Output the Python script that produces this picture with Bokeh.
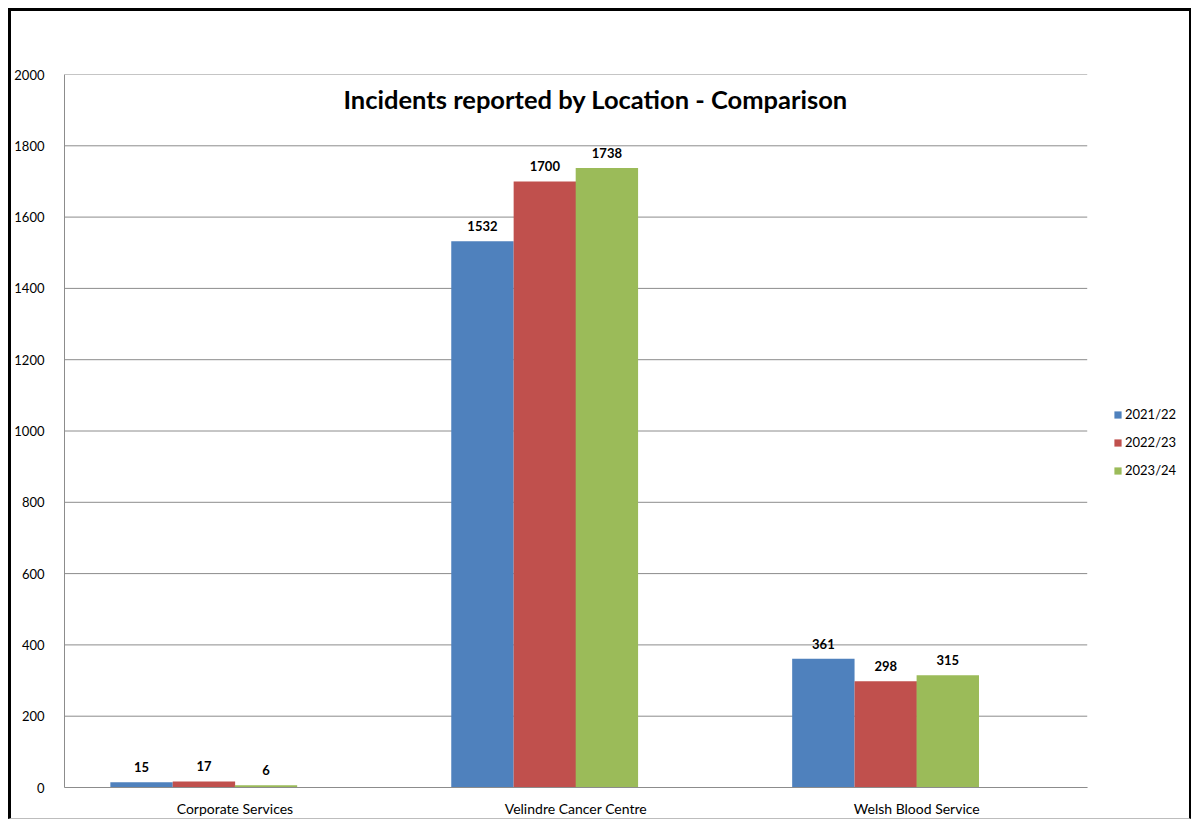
from bokeh.plotting import figure
from bokeh.models import ColumnDataSource, Range1d, Label, Legend, LegendItem, FixedTicker
from bokeh.core.properties import value
from bokeh.embed import file_html
from bokeh.resources import INLINE

categories = ["Corporate Services", "Velindre Cancer Centre", "Welsh Blood Service"]
series_names = ["2021/22", "2022/23", "2023/24"]
v2122 = [15, 1532, 361]
v2223 = [17, 1700, 298]
v2324 = [6, 1738, 315]
colors = ["#4F81BD", "#C0504D", "#9BBB59"]
y_ticks = [0, 200, 400, 600, 800, 1000, 1200, 1400, 1600, 1800, 2000]

FONT = "Lato"
n = len(categories)
centers = [i + 0.5 for i in range(n)]
X_END = n + 0.3   # room on the right for the legend

p = figure(x_range=Range1d(0, X_END), y_range=Range1d(0, 2000),
           width=1183, height=811, output_backend="svg", toolbar_location=None,
           min_border_left=49, min_border_right=5, min_border_top=63, min_border_bottom=35)
p.styles = {"margin-left": "8px", "margin-top": "8px",
            "border-top": "3px solid black", "border-left": "3px solid black",
            "border-right": "2px solid black", "border-bottom": "1px solid #bdbdbd"}

# horizontal gridlines only across the category area
p.segment(x0=[0] * len(y_ticks), x1=[n] * len(y_ticks), y0=y_ticks, y1=y_ticks,
          line_color="#8c8c8c", line_width=1)

bw = 0.183
offs = [-0.274, -0.091, 0.091]
renderers = []
for vals, off, color in zip([v2122, v2223, v2324], offs, colors):
    xs = [c + off for c in centers]
    src = ColumnDataSource(dict(x=xs, top=vals, lab=[str(v) for v in vals]))
    r = p.vbar(x="x", top="top", width=bw, source=src, fill_color=color, line_color=None)
    renderers.append(r)
    p.text(x="x", y="top", text="lab", source=src,
           text_align="center", text_baseline="bottom", y_offset=-10,
           text_font=value(FONT), text_font_size="13px", text_font_style="bold", text_color="#000000")

p.xgrid.grid_line_color = None
p.ygrid.grid_line_color = None
p.outline_line_color = None
p.yaxis.ticker = FixedTicker(ticks=y_ticks)
p.xaxis.ticker = FixedTicker(ticks=centers)
p.xaxis.major_label_overrides = {c: lab for c, lab in zip(centers, categories)}
p.xaxis.bounds = (0, n)

for ax in (p.xaxis[0], p.yaxis[0]):
    ax.axis_line_color = "#8c8c8c"
    ax.major_tick_line_color = None
    ax.minor_tick_line_color = None
    ax.major_label_text_font = FONT
    ax.major_label_text_font_size = "13px"
    ax.major_label_text_color = "#000000"
p.xaxis.major_label_text_font_size = "14px"
p.yaxis.major_label_standoff = 14
p.xaxis.major_label_standoff = 6

title = Label(x=1.558, y=1930, text="Incidents reported by Location - Comparison",
              text_align="center", text_baseline="middle", text_font=FONT,
              text_font_size="25.5px", text_font_style="bold", text_color="#000000")
p.add_layout(title)

legend = Legend(items=[LegendItem(label=s, renderers=[r]) for s, r in zip(series_names, renderers)],
                location=(1049, 307), orientation="vertical",
                glyph_width=9, glyph_height=9, label_standoff=3, spacing=8, label_height=20,
                padding=0, margin=0, border_line_color=None, background_fill_alpha=0,
                label_text_font=FONT, label_text_font_size="13px", label_text_color="#000000")
p.add_layout(legend, "center")

open("out.html", "w").write(file_html(p, INLINE))
